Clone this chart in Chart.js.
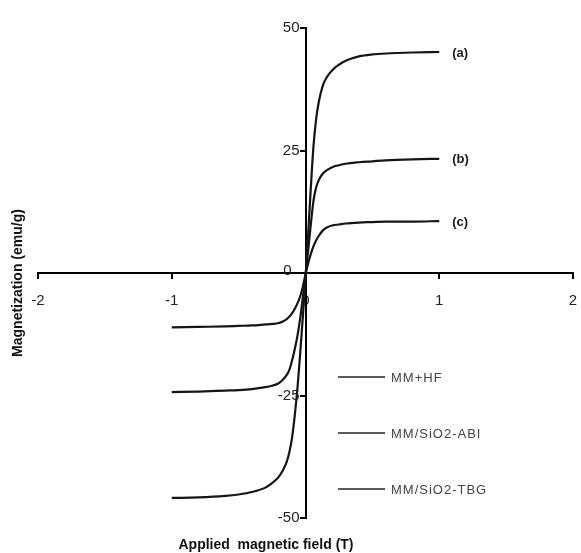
<!DOCTYPE html>
<html>
<head>
<meta charset="utf-8">
<script src="https://cdn.jsdelivr.net/npm/chart.js@4.4.1/dist/chart.umd.min.js"></script>
<style>
  html, body { margin: 0; padding: 0; background: #fff; }
  #wrap { width: 581px; height: 553px; }
</style>
</head>
<body>
<div id="wrap"><canvas id="myChart" width="581" height="553"></canvas></div>
<script>
// applied field (T)
const field = [-1, -0.8, -0.6, -0.5, -0.4, -0.3, -0.25, -0.2, -0.17, -0.14, -0.12, -0.1, -0.08, -0.06, -0.04, -0.02,
  0, 0.02, 0.04, 0.06, 0.08, 0.1, 0.13, 0.16, 0.2, 0.25, 0.3, 0.4, 0.5, 0.6, 0.8, 1];

// magnetization (emu/g)
const magA = [-45.9, -45.8, -45.5, -45.2, -44.7, -43.8, -42.9, -41.6, -40.3, -38.5, -36.5, -33.5, -29, -23.5, -16.5, -9,
  -1, 8, 17.5, 26, 31.5, 35, 38.3, 40, 41.4, 42.5, 43.3, 44.2, 44.6, 44.8, 45, 45.1];
const magB = [-24.3, -24.2, -24, -23.9, -23.7, -23.3, -23, -22.5, -21.8, -20.8, -19.7, -17.8, -15.5, -12.8, -9.3, -5,
  -0.5, 4.5, 10, 14.8, 17.5, 19, 20.3, 21, 21.6, 22, 22.3, 22.6, 22.8, 23, 23.2, 23.3];
const magC = [-11.1, -11, -10.9, -10.8, -10.7, -10.5, -10.4, -10.2, -9.9, -9.4, -8.9, -8.2, -7.3, -6.2, -4.8, -2.8,
  -0.3, 2, 3.9, 5.5, 6.7, 7.6, 8.7, 9.3, 9.7, 9.9, 10.1, 10.3, 10.4, 10.5, 10.5, 10.6];

const seriesNames = ['MM+HF', 'MM/SiO2-ABI', 'MM/SiO2-TBG'];
const curveTags = ['(a)', '(b)', '(c)'];
const xTicks = [-2, -1, 0, 1, 2];
const yTicks = [-50, -25, 0, 25, 50];

function pts(ys) {
  return field.map(function(x, i) { return { x: x, y: ys[i] }; });
}

const sets = [magA, magB, magC].map(function(ys, i) {
  return {
    label: seriesNames[i],
    data: pts(ys),
    borderColor: '#151515',
    borderWidth: 2.2,
    pointRadius: 0,
    fill: false,
    cubicInterpolationMode: 'monotone'
  };
});

const tickFont = '15px "Liberation Sans", Arial, sans-serif';

// y tick labels (left of the centred axis), tags, legend, axis titles
const extras = {
  id: 'extras',
  afterDraw: function(chart) {
    const ctx = chart.ctx;
    const xs = chart.scales.x, ys = chart.scales.y;
    const axisX = xs.getPixelForValue(0);
    ctx.save();

    ctx.fillStyle = '#222';
    ctx.font = tickFont;
    ctx.textAlign = 'right';
    ctx.textBaseline = 'middle';
    ys.ticks.forEach(function(t) {
      const off = t.value === 0 ? 14 : 6;
      ctx.fillText(String(t.value), axisX - off, ys.getPixelForValue(t.value) - (t.value === 0 ? 2 : 0));
    });

    ctx.fillStyle = '#1a1a2a';
    ctx.font = 'bold 13px "Liberation Sans", Arial, sans-serif';
    ctx.textAlign = 'left';
    chart.data.datasets.forEach(function(ds, i) {
      const last = ds.data[ds.data.length - 1];
      ctx.fillText(curveTags[i], xs.getPixelForValue(last.x) + 13, ys.getPixelForValue(last.y) + 1);
    });

    // legend
    const legY = [377, 433, 489];
    ctx.strokeStyle = '#222';
    ctx.lineWidth = 1.5;
    ctx.fillStyle = '#444';
    ctx.font = '13px "Liberation Sans", Arial, sans-serif';
    ctx.letterSpacing = '1px';
    chart.data.datasets.forEach(function(ds, i) {
      ctx.beginPath();
      ctx.moveTo(338, legY[i]);
      ctx.lineTo(385, legY[i]);
      ctx.stroke();
      ctx.fillText(ds.label, 391, legY[i] + 1);
    });
    ctx.letterSpacing = '0px';

    // axis titles
    ctx.fillStyle = '#111';
    ctx.font = 'bold 14px "Liberation Sans", Arial, sans-serif';
    ctx.textAlign = 'center';
    ctx.fillText('Applied  magnetic field (T)', 266, 545);
    ctx.translate(18, 283);
    ctx.rotate(-Math.PI / 2);
    ctx.fillText('Magnetization (emu/g)', 0, 0);
    ctx.restore();
  }
};

function noPad(s) {
  s.paddingLeft = 0; s.paddingRight = 0; s.paddingTop = 0; s.paddingBottom = 0;
}

new Chart(document.getElementById('myChart'), {
  type: 'line',
  data: { datasets: sets },
  options: {
    responsive: false,
    animation: false,
    layout: { padding: { left: 38, right: 8, top: 28, bottom: 35 } },
    plugins: { legend: { display: false }, tooltip: { enabled: false } },
    scales: {
      x: {
        type: 'linear',
        position: { y: 0 },
        min: -2, max: 2,
        afterBuildTicks: function(s) { s.ticks = xTicks.map(function(v) { return { value: v }; }); },
        afterFit: noPad,
        grid: { drawOnChartArea: false, tickLength: 5, color: '#000', lineWidth: 2 },
        border: { color: '#000', width: 2 },
        ticks: { color: '#222', font: { size: 15, family: '"Liberation Sans", Arial' }, padding: 14, maxRotation: 0 }
      },
      y: {
        type: 'linear',
        position: { x: 0 },
        min: -50, max: 50,
        afterBuildTicks: function(s) { s.ticks = yTicks.map(function(v) { return { value: v }; }); },
        afterFit: noPad,
        grid: { drawOnChartArea: false, tickLength: 5, color: '#000', lineWidth: 2 },
        border: { color: '#000', width: 2 },
        ticks: { display: false }
      }
    }
  },
  plugins: [extras]
});
</script>
</body>
</html>
